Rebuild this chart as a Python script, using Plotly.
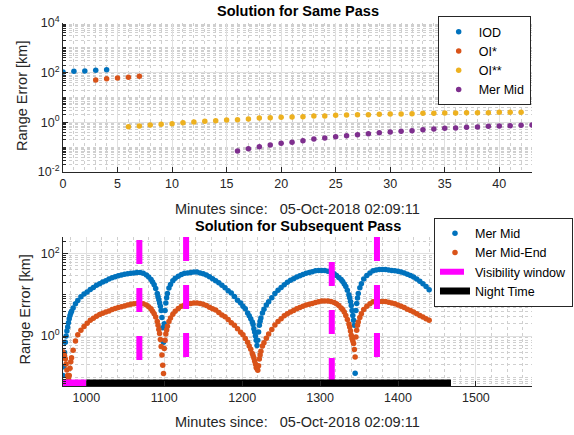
import plotly.graph_objects as go

# ---------------- data: top panel (Solution for Same Pass) ----------------
iod_t = [0, 1, 2, 3, 4]
iod_err = [106, 113, 117, 124, 132]

oi1_t = [3, 4, 5, 6, 7]
oi1_err = [50.7, 57.3, 61.0, 64.9, 71.1]

oi2_t = list(range(6, 43))
oi2_err = [0.67, 0.71, 0.78, 0.83, 0.88, 0.97, 1.03, 1.10, 1.17, 1.24, 1.28, 1.36,
           1.49, 1.54, 1.59, 1.64, 1.69, 1.80, 1.80, 1.91, 1.97, 2.04, 2.04, 2.10,
           2.17, 2.17, 2.23, 2.30, 2.30, 2.37, 2.37, 2.45, 2.45, 2.45, 2.53, 2.53, 2.53]

mer_t = list(range(16, 44))
mer_err = [0.070, 0.087, 0.105, 0.122, 0.143, 0.157, 0.183, 0.213, 0.234, 0.265,
           0.290, 0.319, 0.350, 0.384, 0.408, 0.434, 0.462, 0.507, 0.539, 0.573,
           0.591, 0.629, 0.649, 0.690, 0.711, 0.734, 0.757, 0.781]

top_ytickvals = [1e-2, 1e0, 1e2, 1e4]
top_yticktext = ["10<sup>-2</sup>", "10<sup>0</sup>", "10<sup>2</sup>", "10<sup>4</sup>"]

# ---------------- data: bottom panel (Solution for Subsequent Pass) ----------------
sub_t = [970, 971, 972, 973, 974, 975, 976, 977, 978, 979, 980, 981, 983, 986, 989, 993,
         997, 1001, 1005, 1009, 1013, 1017, 1021, 1025, 1029, 1033, 1037, 1041, 1045,
         1049, 1053, 1057, 1061, 1065, 1069, 1073, 1077, 1080, 1083, 1085, 1087, 1089,
         1091, 1092, 1093, 1094, 1095, 1096, 1097, 1098, 1099, 1100, 1101, 1102, 1103,
         1104, 1106, 1108, 1111, 1114, 1118, 1122, 1126, 1130, 1134, 1138, 1142, 1146,
         1150, 1154, 1158, 1162, 1166, 1170, 1174, 1178, 1182, 1186, 1190, 1194, 1198,
         1201, 1204, 1207, 1209, 1211, 1213, 1214, 1215, 1216, 1217, 1218, 1219, 1220,
         1221, 1222, 1223, 1224, 1226, 1228, 1231, 1234, 1238, 1242, 1246, 1250, 1254,
         1258, 1262, 1266, 1270, 1274, 1278, 1282, 1286, 1290, 1294, 1298, 1302, 1306,
         1310, 1314, 1318, 1321, 1324, 1327, 1329, 1331, 1333, 1335, 1337, 1338, 1339,
         1340, 1341, 1342, 1343, 1344, 1345, 1346, 1347, 1348, 1349, 1351, 1353, 1356,
         1360, 1364, 1368, 1372, 1376, 1380, 1384, 1388, 1392, 1396, 1400, 1404, 1408,
         1412, 1416, 1420, 1424, 1428, 1432, 1436, 1440]

mer_mid_err = [0.11, 0.18, 0.40, 0.71, 1.0, 1.32, 1.66, 2.09, 2.63, 3.16, 3.63, 4.0, 4.79,
               6.03, 7.24, 8.91, 10.5, 11.7, 13.5, 15.1, 17.0, 18.6, 20.4, 21.9, 24.0,
               25.7, 27.5, 28.8, 30.2, 31.6, 32.4, 33.1, 33.9, 34.7, 34.7, 33.1, 30.2,
               26.9, 23.4, 20.4, 17.4, 14.1, 10.7, 8.9, 7.6, 6.3, 5.25, 4.17, 2.82, 1.58,
               0.71, 2.0, 4.17, 6.3, 8.5, 10.7, 14.5, 17.8, 21.9, 25.1, 28.2, 30.9, 33.1,
               33.9, 34.7, 35.5, 35.5, 33.9, 32.4, 30.2, 27.5, 24.5, 21.9, 19.5, 17.0,
               14.8, 12.6, 11.0, 9.1, 7.4, 6.3, 5.25, 4.57, 3.63, 3.09, 2.63, 2.19, 1.91,
               1.51, 1.26, 1.0, 0.79, 0.59, 0.79, 1.26, 1.82, 2.29, 2.75, 3.63, 4.47,
               5.62, 6.76, 8.5, 10.7, 12.9, 15.1, 17.4, 20.0, 22.4, 24.5, 26.9, 28.8,
               30.9, 33.1, 34.7, 36.3, 38.0, 38.9, 38.9, 38.9, 37.2, 35.5, 32.4, 29.5,
               26.3, 23.4, 20.9, 18.2, 15.8, 12.9, 10.0, 8.5, 6.9, 5.5, 4.17, 3.16, 2.4,
               1.82, 0.126, 4.17, 6.17, 8.3, 10.7, 14.8, 18.6, 24.0, 29.5, 33.9, 38.0,
               39.8, 40.7, 40.7, 40.7, 39.8, 38.9, 38.0, 37.2, 35.5, 33.9, 31.6, 29.5,
               26.9, 24.0, 21.4, 18.6, 15.8, 13.2]

mer_mid_end_err = [0.41, 0.37, 0.33, 0.28, 0.21, 0.15, 0.11, 0.093, 0.11, 0.166, 0.24, 0.30,
                   0.45, 0.76, 1.07, 1.38, 1.70, 2.04, 2.40, 2.69, 3.02, 3.31, 3.55, 3.80,
                   4.07, 4.37, 4.68, 4.90, 5.13, 5.37, 5.62, 5.89, 6.03, 6.17, 6.17, 6.03,
                   5.62, 5.13, 4.57, 3.98, 3.47, 2.88, 2.24, 1.82, 1.45, 1.15, 0.83, 0.56,
                   0.35, 0.195, 0.123, 0.50, 0.79, 1.12, 1.41, 1.74, 2.24, 2.75, 3.39, 3.98,
                   4.68, 5.25, 5.62, 6.03, 6.17, 6.31, 6.31, 6.17, 5.89, 5.50, 5.01, 4.57,
                   4.27, 3.72, 3.24, 2.95, 2.51, 2.09, 1.82, 1.51, 1.23, 1.07, 0.87, 0.71,
                   0.575, 0.48, 0.38, 0.34, 0.295, 0.25, 0.21, 0.174, 0.162, 0.148, 0.19,
                   0.28, 0.35, 0.43, 0.575, 0.69, 0.89, 1.12, 1.45, 1.86, 2.24, 2.63, 3.09,
                   3.47, 3.80, 4.17, 4.57, 4.90, 5.25, 5.62, 5.89, 6.17, 6.46, 6.76, 7.08,
                   7.08, 7.08, 6.92, 6.46, 6.03, 5.50, 4.79, 4.37, 3.80, 3.16, 2.51, 1.95,
                   1.66, 1.32, 1.05, 0.87, 0.76, 0.66, 0.47, 0.31, 0.95, 1.38, 1.82, 2.19,
                   2.82, 3.47, 4.37, 5.25, 6.03, 6.76, 6.92, 6.92, 6.92, 6.92, 6.61, 6.31,
                   6.03, 5.62, 5.25, 4.90, 4.47, 4.17, 3.80, 3.47, 3.16, 2.88, 2.63, 2.40]

visibility_t = [1068, 1128, 1315, 1373]
visibility_pre_t = [970, 1000]
night_t = [1000, 1468]

bot_ytickvals = [1e0, 1e2]
bot_yticktext = ["10<sup>0</sup>", "10<sup>2</sup>"]

# ---------------- styling ----------------
BLUE, ORANGE, YELLOW, PURPLE = "#0072BD", "#D95319", "#EDB120", "#7E2F8E"
MAGENTA = "#FF00FF"
AX = "#262626"
FONT = "Liberation Sans, Arial, Helvetica, sans-serif"

y2_lo, y2_hi = -1.21, 2.4           # log10 range of bottom axis
px_per_dec2 = 149 / (y2_hi - y2_lo)  # approx pixels per decade (bottom)
dash_phase_px = [3, 0, 25, 0]        # dash phase of each visibility line
bar_y = 10 ** (y2_lo + 3.0 / px_per_dec2)   # bottom bars sit just above the axis

fig = go.Figure()

mk = dict(size=5.5)
fig.add_trace(go.Scatter(x=iod_t, y=iod_err, mode="markers", name="IOD",
                         marker=dict(color=BLUE, **mk), xaxis="x", yaxis="y", legend="legend"))
fig.add_trace(go.Scatter(x=oi1_t, y=oi1_err, mode="markers", name="OI*",
                         marker=dict(color=ORANGE, **mk), xaxis="x", yaxis="y", legend="legend"))
fig.add_trace(go.Scatter(x=oi2_t, y=oi2_err, mode="markers", name="OI**",
                         marker=dict(color=YELLOW, **mk), xaxis="x", yaxis="y", legend="legend"))
fig.add_trace(go.Scatter(x=mer_t, y=mer_err, mode="markers", name="Mer Mid",
                         marker=dict(color=PURPLE, **mk), xaxis="x", yaxis="y", legend="legend"))

mk2 = dict(size=5.5)
fig.add_trace(go.Scatter(x=sub_t, y=mer_mid_err, mode="markers", name="Mer Mid",
                         marker=dict(color=BLUE, **mk2), xaxis="x2", yaxis="y2", legend="legend2"))
fig.add_trace(go.Scatter(x=sub_t, y=mer_mid_end_err, mode="markers", name="Mer Mid-End",
                         marker=dict(color=ORANGE, **mk2), xaxis="x2", yaxis="y2", legend="legend2"))

for i, (tv, ph) in enumerate(zip(visibility_t, dash_phase_px)):
    fig.add_trace(go.Scatter(
        x=[tv, tv], y=[10 ** (y2_hi - ph / px_per_dec2), 10 ** y2_lo], mode="lines",
        name="Visibility window", legendgroup="vis", showlegend=(i == 0),
        line=dict(color=MAGENTA, width=6, dash="24px,24px"),
        xaxis="x2", yaxis="y2", legend="legend2"))

fig.add_trace(go.Scatter(x=visibility_pre_t, y=[bar_y] * 2, mode="lines",
                         name="Visibility window", legendgroup="vis", showlegend=False,
                         line=dict(color=MAGENTA, width=7), xaxis="x2", yaxis="y2",
                         legend="legend2"))
fig.add_trace(go.Scatter(x=night_t, y=[bar_y] * 2, mode="lines", name="Night Time",
                         line=dict(color="black", width=7), xaxis="x2", yaxis="y2",
                         legend="legend2"))

tickfont = dict(family=FONT, size=12.5, color=AX)
common = dict(showline=True, linecolor=AX, linewidth=1, ticks="inside", ticklen=5,
              tickcolor=AX, showgrid=True, gridcolor="#e0e0e0", gridwidth=1,
              zeroline=False, tickfont=tickfont, mirror=False, automargin=False)
ylog = dict(type="log",
            minor=dict(dtick="D1", ticks="inside", ticklen=3, tickcolor=AX,
                       showgrid=True, gridcolor="#cfcfcf", griddash="dot", gridwidth=1))

fig.update_layout(
    width=574, height=435,
    margin=dict(l=63, r=42, t=23, b=49, autoexpand=False),
    paper_bgcolor="white", plot_bgcolor="white",
    font=dict(family=FONT, color=AX),
    xaxis=dict(domain=[0, 1], anchor="y", range=[0, 43], dtick=5,
               minor=dict(dtick=1, showgrid=True, gridcolor="#cfcfcf", griddash="dot"),
               **common),
    yaxis=dict(domain=[0.5895, 1], anchor="x", range=[-2, 4], tickmode="array",
               tickvals=top_ytickvals, ticktext=top_yticktext, **ylog, **common),
    xaxis2=dict(domain=[0, 1], anchor="y2", range=[970, 1572], dtick=100, tick0=0,
                minor=dict(dtick=20, showgrid=True, gridcolor="#cfcfcf", griddash="dot"),
                **common),
    yaxis2=dict(domain=[0, 0.4105], anchor="x2", range=[y2_lo, y2_hi], tickmode="array",
                tickvals=bot_ytickvals, ticktext=bot_yticktext, **ylog, **common),
    legend=dict(x=0.9972, y=1.019, xanchor="right", yanchor="top", bgcolor="white",
                bordercolor=AX, borderwidth=1, font=dict(family=FONT, size=12.5, color="black"),
                tracegroupgap=0),
    legend2=dict(x=1.0874, y=0.4636, xanchor="right", yanchor="top", bgcolor="white",
                 bordercolor=AX, borderwidth=1, font=dict(family=FONT, size=12.5, color="black"),
                 tracegroupgap=0),
    annotations=[
        dict(text="<b>Solution for Same Pass</b>", x=0.5, y=1.033, xref="paper", yref="paper",
             xanchor="center", yanchor="middle", showarrow=False,
             font=dict(family=FONT, size=14.5, color="black")),
        dict(text="<b>Solution for Subsequent Pass</b>", x=0.5, y=0.4416, xref="paper",
             yref="paper", xanchor="center", yanchor="middle", showarrow=False,
             font=dict(family=FONT, size=14.5, color="black")),
        dict(text="Minutes since:   05-Oct-2018 02:09:11", x=0.5, y=0.4876, xref="paper",
             yref="paper", xanchor="center", yanchor="middle", showarrow=False,
             font=dict(family=FONT, size=14.5, color=AX)),
        dict(text="Minutes since:   05-Oct-2018 02:09:11", x=0.5, y=-0.0983, xref="paper",
             yref="paper", xanchor="center", yanchor="middle", showarrow=False,
             font=dict(family=FONT, size=14.5, color=AX)),
        dict(text="Range Error [km]", x=-0.0874, y=0.799, xref="paper", yref="paper",
             xanchor="center", yanchor="middle", textangle=-90, showarrow=False,
             font=dict(family=FONT, size=14.5, color=AX)),
        dict(text="Range Error [km]", x=-0.08, y=0.212, xref="paper", yref="paper",
             xanchor="center", yanchor="middle", textangle=-90, showarrow=False,
             font=dict(family=FONT, size=14.5, color=AX)),
    ],
)

fig.write_html("out.html", config={"displayModeBar": False},
               post_script="document.body.style.margin='0';")
